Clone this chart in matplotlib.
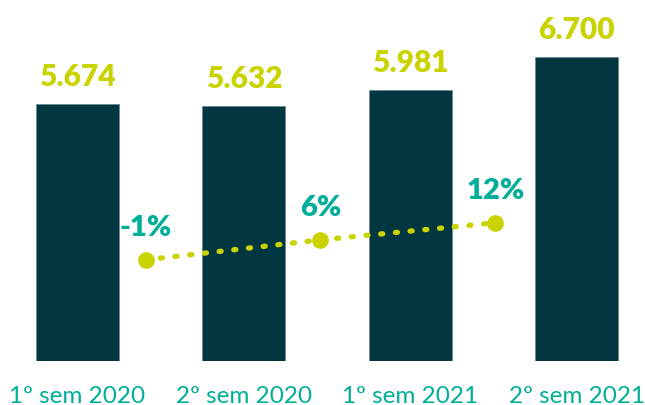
import matplotlib.pyplot as plt
import numpy as np

# data
periods = ["1º sem 2020", "2º sem 2020", "1º sem 2021", "2º sem 2021"]
values = [5674, 5632, 5981, 6700]
value_labels = ["5.674", "5.632", "5.981", "6.700"]
growth = [-1, 6, 12]
growth_labels = ["-1%", "6%", "12%"]

BAR = "#023641"
LIME = "#C8D300"
TEAL = "#00AE9A"

plt.rcParams["font.family"] = ["Lato", "DejaVu Sans"]

fig = plt.figure(figsize=(6.45, 4.06), dpi=100)
ax = fig.add_axes([0.0, 44 / 406, 1.0, 340 / 406])
x = np.arange(len(values)) * 1.0
ax.bar(x, values, width=0.5, color=BAR, edgecolor="#6b8a92", linewidth=0.6)
ax.set_xlim(-0.465, 3.41)
ax.set_ylim(0, 7500)
for xi, v, lab in zip(x, values, value_labels):
    ax.annotate(lab, (xi, v), xytext=(0, 10), textcoords="offset points",
                ha="center", va="bottom", color=LIME, fontsize=21.5,
                fontweight="heavy", annotation_clip=False)
ax.set_xticks(x)
ax.set_xticklabels(periods, color=TEAL, fontsize=17.5)
ax.tick_params(axis="x", length=0, pad=17)
ax.set_yticks([])
for s in ax.spines.values():
    s.set_visible(False)

# growth line on secondary axis
ax2 = ax.twinx()
gx = np.arange(len(growth)) * 1.05 + 0.41
ax2.plot(gx, growth, color=LIME, lw=3.8, ls=(0, (0.4, 2.4)),
         dash_capstyle="round", marker="o", ms=11, zorder=3)
ax2.set_ylim(-36.5, 82.8)
for xi, g, lab in zip(gx, growth, growth_labels):
    ax2.annotate(lab, (xi, g), xytext=(0, 14), textcoords="offset points",
                 ha="center", va="bottom", color=TEAL, fontsize=21,
                 fontweight="heavy")
ax2.set_yticks([])
for s in ax2.spines.values():
    s.set_visible(False)

fig.savefig("out.png", dpi=100)
